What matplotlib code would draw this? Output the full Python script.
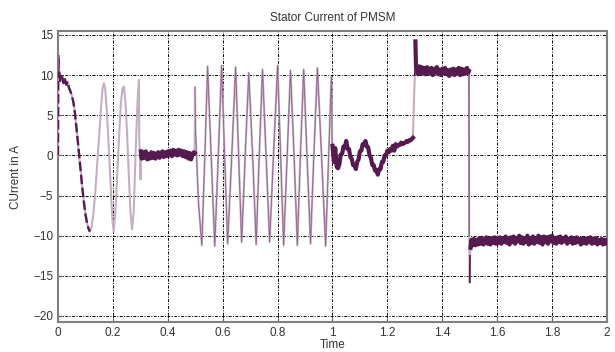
import matplotlib
matplotlib.use("Agg")
import matplotlib.pyplot as plt

# start-up transient and chirp (0 .. 0.3 s)
t_start = [0.0, 0.001, 0.004, 0.008, 0.012, 0.015, 0.02, 0.025, 0.03, 0.035, 0.04,
           0.045, 0.05, 0.055, 0.06, 0.065, 0.07, 0.075, 0.08, 0.085, 0.09, 0.095,
           0.1, 0.105, 0.11, 0.116, 0.122, 0.128, 0.135, 0.142, 0.15, 0.157, 0.162,
           0.167, 0.172, 0.178, 0.185, 0.192, 0.198, 0.203, 0.209, 0.215, 0.222,
           0.229, 0.235, 0.24, 0.246, 0.252, 0.258, 0.264, 0.27, 0.276, 0.28, 0.285,
           0.29, 0.295, 0.296, 0.301]
i_start = [0.0, 12.5, 10.5, 9.3, 9.9, 9.8, 9.0, 9.5, 8.8, 9.2, 8.4,
           8.0, 7.5, 6.8, 5.8, 4.2, 2.5, 0.8, -1.0, -2.8, -4.5, -6.0,
           -7.3, -8.3, -9.0, -9.5, -9.0, -7.5, -5.0, -1.5, 2.5, 6.0, 8.2,
           9.0, 8.3, 5.5, 1.0, -4.0, -8.0, -9.5, -7.0, -3.0, 2.0,
           6.5, 8.3, 8.6, 6.5, 2.5, -2.5, -7.0, -9.2, -7.0, -2.5, 2.5,
           7.0, 9.4, 2.0, -3.0]

# standstill around zero (0.3 .. 0.5 s)
t_zero = [0.302, 0.305, 0.31, 0.315, 0.32, 0.325, 0.33, 0.335, 0.34, 0.345, 0.35,
          0.355, 0.36, 0.365, 0.37, 0.375, 0.38, 0.385, 0.39, 0.395, 0.4, 0.405,
          0.41, 0.415, 0.42, 0.425, 0.43, 0.435, 0.44, 0.445, 0.45, 0.455, 0.46,
          0.465, 0.47, 0.475, 0.48, 0.485, 0.49, 0.495, 0.498]
i_zero = [0.5, -0.4, 0.4, -0.3, 0.5, -0.5, 0.2, -0.4, 0.4, -0.3, 0.3,
          -0.4, 0.1, 0.4, -0.3, 0.2, 0.5, -0.2, 0.4, -0.1, 0.5, 0.0,
          0.6, -0.1, 0.7, 0.1, 0.6, 0.0, 0.7, 0.1, 0.6, -0.1, 0.5, -0.2,
          0.4, -0.4, 0.3, -0.5, 0.1, 0.4, 0.3]

# fast oscillation (0.5 .. 1.0 s)
t_osc = [0.499, 0.501, 0.512, 0.524, 0.535, 0.545, 0.558, 0.571, 0.584, 0.596,
         0.607, 0.618, 0.633, 0.647, 0.658, 0.669, 0.682, 0.695, 0.709, 0.722,
         0.733, 0.745, 0.758, 0.771, 0.785, 0.8, 0.811, 0.822, 0.835, 0.847,
         0.86, 0.872, 0.883, 0.895, 0.907, 0.92, 0.932, 0.945, 0.96, 0.975,
         0.986, 0.996, 0.999]
i_osc = [8.5, 3.0, -6.0, -11.2, 0.0, 11.1, 0.0, -11.3, 0.0, 11.2,
         0.0, -11.0, 0.0, 11.0, 0.0, -10.8, 0.0, 10.3, 0.0, -11.1,
         0.0, 10.7, 0.0, -10.8, 0.0, 11.2, 0.0, -11.2, 0.0, 10.6,
         0.0, -11.2, 0.0, 10.7, 0.0, -11.0, 0.0, 10.9, 0.0, -11.3,
         0.0, 9.8, 1.0]

# low-amplitude ripple (1.0 .. 1.3 s)
t_ripple = [1.0, 1.005, 1.01, 1.015, 1.02, 1.025, 1.03, 1.035, 1.04, 1.045, 1.05,
            1.055, 1.06, 1.065, 1.07, 1.075, 1.08, 1.085, 1.09, 1.095, 1.1, 1.105,
            1.11, 1.115, 1.12, 1.125, 1.13, 1.135, 1.14, 1.145, 1.15, 1.155, 1.16,
            1.165, 1.17, 1.175, 1.18, 1.185, 1.19, 1.195, 1.2, 1.205, 1.21, 1.215,
            1.22, 1.225, 1.23, 1.235, 1.24, 1.245, 1.25, 1.255, 1.26, 1.265, 1.27,
            1.275, 1.28, 1.285, 1.29, 1.293]
i_ripple = [1.2, -0.8, 0.9, -1.4, -1.6, -1.1, 0.1, 0.2, 1.1, 1.0, 1.8,
            0.8, 0.8, -0.2, -0.4, -1.2, -1.2, -1.7, -0.8, -0.5, 0.5, 0.6,
            1.4, 1.3, 1.8, 1.1, 1.0, 0.0, -0.3, -1.2, -1.2, -1.9, -1.8,
            -2.4, -1.7, -1.7, -0.8, -0.8, 0.0, 0.0, 0.6, 0.4, 0.8, 0.6,
            1.2, 0.6, 1.4, 1.1, 1.3, 1.3, 1.6, 1.4, 1.5, 1.6, 1.8,
            1.7, 1.9, 1.9, 2.1, 2.2]

# positive step (1.3 .. 1.5 s)
t_high = [1.295, 1.3, 1.302, 1.304, 1.308, 1.312, 1.316, 1.32, 1.325, 1.33, 1.335,
          1.34, 1.345, 1.35, 1.355, 1.36, 1.365, 1.37, 1.375, 1.38, 1.385, 1.39,
          1.395, 1.4, 1.405, 1.41, 1.415, 1.42, 1.425, 1.43, 1.435, 1.44, 1.445,
          1.45, 1.455, 1.46, 1.465, 1.47, 1.475, 1.48, 1.485, 1.49, 1.495, 1.497]
i_high = [5.0, 10.0, 14.2, 11.2, 10.9, 10.1, 11.1, 10.3, 11.0, 10.2, 10.9,
          10.1, 11.0, 10.4, 10.2, 10.9, 10.0, 10.8, 10.3, 11.0, 10.1, 10.7,
          10.0, 10.8, 10.2, 10.9, 10.1, 10.6, 9.9, 10.7, 10.1, 10.8, 10.0,
          10.7, 10.2, 10.9, 10.0, 10.8, 10.1, 10.7, 10.2, 10.9, 10.3, 10.5]

# negative step (1.5 .. 2.0 s)
t_low = [1.498, 1.5, 1.501, 1.503, 1.506, 1.51, 1.515, 1.52, 1.525, 1.53, 1.535,
         1.54, 1.545, 1.55, 1.555, 1.56, 1.565, 1.57, 1.575, 1.58, 1.585, 1.59,
         1.595, 1.6, 1.605, 1.61, 1.615, 1.62, 1.625, 1.63, 1.635, 1.64, 1.645,
         1.65, 1.655, 1.66, 1.665, 1.67, 1.675, 1.68, 1.685, 1.69, 1.695, 1.7,
         1.705, 1.71, 1.715, 1.72, 1.725, 1.73, 1.735, 1.74, 1.745, 1.75, 1.755,
         1.76, 1.765, 1.77, 1.775, 1.78, 1.785, 1.79, 1.795, 1.8, 1.805, 1.81,
         1.815, 1.82, 1.825, 1.83, 1.835, 1.84, 1.845, 1.85, 1.855, 1.86, 1.865,
         1.87, 1.875, 1.88, 1.885, 1.89, 1.895, 1.9, 1.905, 1.91, 1.915, 1.92,
         1.925, 1.93, 1.935, 1.94, 1.945, 1.95, 1.955, 1.96, 1.965, 1.97, 1.975,
         1.98, 1.985, 1.99, 1.995, 2.0]
i_low = [-10.0, -15.8, -12.5, -11.5, -10.5, -11.2, -10.4, -11.2, -10.5, -11.1, -10.3,
         -11.0, -10.4, -11.1, -10.5, -10.2, -11.0, -10.4, -11.1, -10.3, -10.9, -10.2,
         -11.0, -10.4, -10.9, -10.2, -11.0, -10.3, -10.8, -10.1, -10.9, -10.3, -11.1,
         -10.2, -10.8, -10.1, -11.0, -10.3, -10.7, -10.0, -10.9, -10.2, -11.0, -10.3,
         -10.8, -10.0, -11.1, -10.3, -10.9, -10.1, -11.0, -10.4, -10.8, -10.0, -10.9,
         -10.2, -11.1, -10.1, -10.8, -10.2, -11.0, -10.1, -10.7, -10.0, -10.9, -10.3,
         -11.0, -10.2, -10.8, -10.1, -10.9, -10.3, -10.7, -10.1, -11.0, -10.4, -10.8,
         -10.2, -11.0, -10.3, -10.9, -10.2, -10.8, -10.4, -11.1, -10.3, -10.9, -10.4,
         -11.0, -10.3, -10.8, -10.2, -11.0, -10.4, -10.9, -10.3, -11.1, -10.5, -10.9,
         -10.4, -11.1, -10.5, -11.0, -10.6]

x_ticks = [0, 0.2, 0.4, 0.6, 0.8, 1.0, 1.2, 1.4, 1.6, 1.8, 2.0]
x_labels = ["0", "0.2", "0.4", "0.6", "0.8", "1", "1.2", "1.4", "1.6", "1.8", "2"]
y_ticks = [-20, -15, -10, -5, 0, 5, 10, 15]

DARK = "#561a50"
LIGHT = "#c2b0c0"
MID = "#8e6389"

plt.rcParams["font.family"] = ["Liberation Sans", "DejaVu Sans"]

fig = plt.figure(figsize=(6.15, 3.52), dpi=100)
ax = fig.add_axes([0.0943, 0.0852, 0.8927, 0.8268])

# full trace in light colour first
t_all = t_start + t_zero + t_osc + t_ripple + t_high + t_low
i_all = i_start + i_zero + i_osc + i_ripple + i_high + i_low
ax.plot(t_all, i_all, color=LIGHT, lw=1.5, zorder=3)

# darker overlays where the trace is dense
ax.plot(t_start[:26], i_start[:26], color=DARK, lw=1.7, dashes=(4, 1.5), zorder=4)
ax.plot(t_start[1:3], i_start[1:3], color=MID, lw=1.0, zorder=4)
ax.plot(t_osc, i_osc, color=MID, lw=0.6, zorder=4)
ax.plot(t_zero, i_zero, color=DARK, lw=3.0, zorder=5)
ax.plot(t_ripple, i_ripple, color=DARK, lw=3.0, zorder=5)
ax.plot(t_high[2:], i_high[2:], color=DARK, lw=3.0, zorder=5)
ax.plot(t_high[1:3], i_high[1:3], color=DARK, lw=1.2, zorder=5)
ax.plot(t_low[1:3], i_low[1:3], color=DARK, lw=1.2, zorder=5)
ax.plot(t_low[3:], i_low[3:], color=DARK, lw=3.0, zorder=5)
ax.plot([t_high[-1], t_low[0]], [i_high[-1], i_low[0]], color=MID, lw=1.0, zorder=4)

ax.set_xlim(0, 2)
ax.set_ylim(-20.75, 15.5)
ax.set_xticks(x_ticks)
ax.set_xticklabels(x_labels)
ax.set_yticks(y_ticks)

ax.grid(True, color="black", lw=0.7, linestyle=(0, (3, 1.5, 1, 1.5)))
ax.set_axisbelow(True)
for sp in ax.spines.values():
    sp.set_color("#808080")
    sp.set_linewidth(1.5)
ax.tick_params(direction="in", length=3, color="#555555", labelsize=8.5,
               labelcolor="#333333")

ax.set_title("Stator Current of PMSM", fontsize=8.5, color="#333333", pad=7)
ax.set_xlabel("Time", fontsize=8.5, color="#333333", labelpad=0)
ax.set_ylabel("CUrrent in A", fontsize=8.5, color="#333333", labelpad=8)

fig.savefig("out.png", dpi=100)
